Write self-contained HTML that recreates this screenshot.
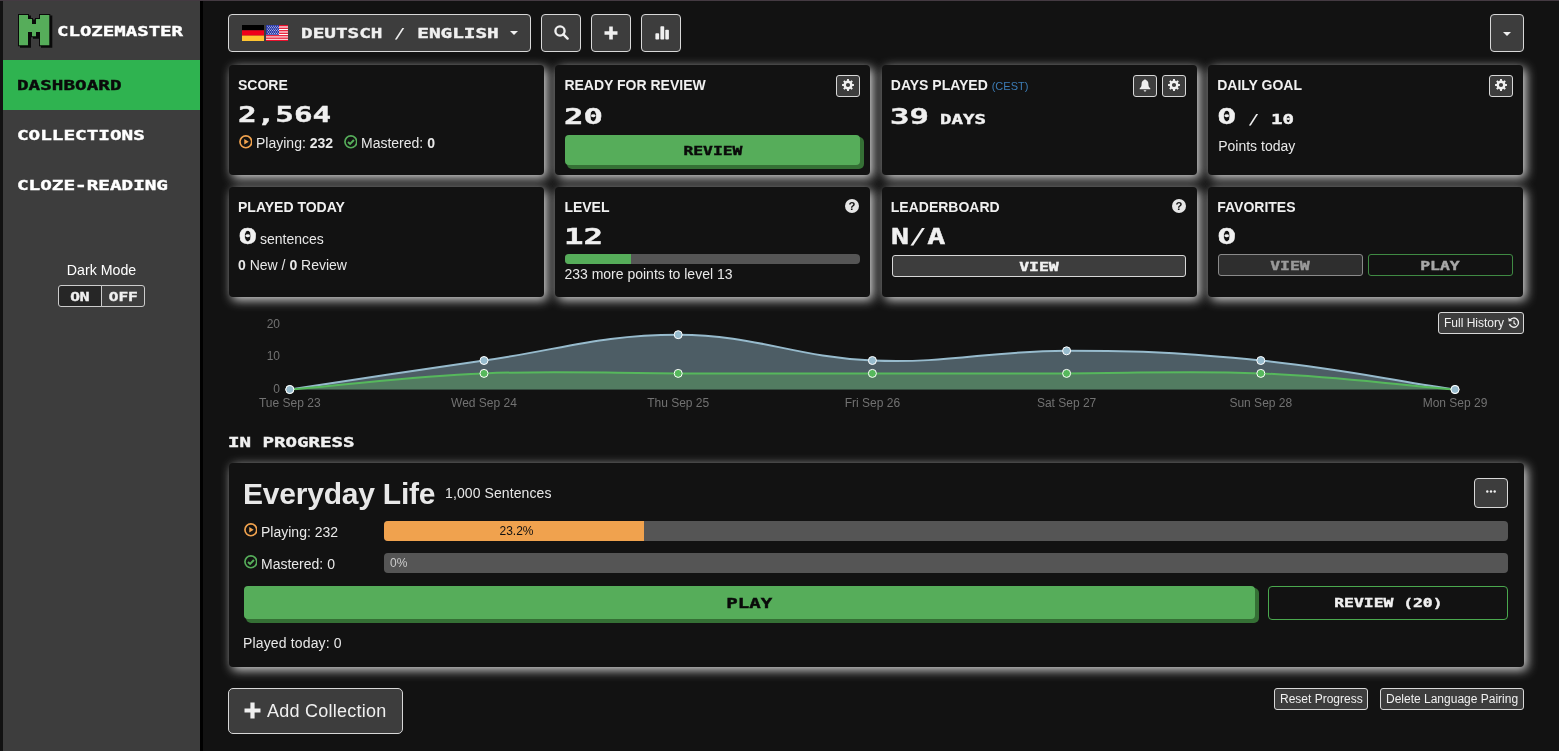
<!DOCTYPE html>
<html lang="en">
<head>
<meta charset="utf-8">
<title>Clozemaster Dashboard</title>
<style>
*{box-sizing:border-box;margin:0;padding:0}
html,body{width:1559px;height:751px;overflow:hidden;background:#121212}
body{position:relative;font-family:"Liberation Sans",sans-serif;color:#e8e8e8;font-size:14px}
.abs{position:absolute}
.px{font-family:"DejaVu Sans Mono","Liberation Mono",monospace;font-weight:bold;display:inline-block;white-space:pre;transform-origin:0 50%;transform:scaleX(1.41);line-height:1;-webkit-text-stroke:0.38px currentColor}
.pxc{transform-origin:50% 50%}
#topstrip{left:0;top:0;width:1559px;height:1px;background:#443a42}
#leftstrip{left:0;top:1px;width:3px;height:750px;background:#121212}
#sidebar{left:3px;top:1px;width:197px;height:750px;background:#3d3d3d}
#sideborder{left:200px;top:1px;width:3px;height:750px;background:#000}
.nav{left:0;width:197px;height:50px}
.nav .px{position:absolute;left:14px;top:19px;font-size:13.55px;color:#fff;transform:scaleX(1.424)}
.nav.active{background:#2fb350}
.nav.active .px{color:#0a0a0a}
.btn{display:flex;align-items:center;justify-content:center;position:absolute;background:#3d3d3d;border:1px solid #d8d8d8;border-radius:4px;color:#f0f0f0}
.panel{position:absolute;background:#121212;border-radius:4px;box-shadow:3px 3px 11px rgba(255,255,255,.85);width:314px;height:109px}
.panel h4{position:absolute;left:9px;top:12px;font-size:14px;font-weight:bold;color:#f0f0f0;white-space:nowrap;line-height:16px}
.big{position:absolute;left:10px;color:#f0f0f0}
.txt{position:absolute;white-space:nowrap;line-height:16px}

.ibtn{width:40px;height:38px;top:14px}
.ibtn svg{position:absolute}
.sbtn{position:absolute;width:24px;height:22px;background:#3d3d3d;border:1px solid #d8d8d8;border-radius:3px}
.sbtn svg{position:absolute;left:5px;top:3px}
.q{position:absolute;width:14px;height:14px}
.gbtn{display:flex;align-items:center;justify-content:center;position:absolute;background:#56ad5a;border-radius:4px;box-shadow:3px 3px 0 1px #357035;color:#0a0a0a}
.bar{position:absolute;background:#555;border-radius:4px;overflow:hidden}
.bar i{display:block;height:100%}
.ico{position:absolute;width:13.7px;height:13.7px;margin:-0.7px 0 0 -0.3px}
.lbl{fill:#727272;font-family:"Liberation Sans",sans-serif;font-size:12px}
</style>
</head>
<body>
<div id="topstrip" class="abs"></div>
<div id="leftstrip" class="abs"></div>

<!-- SIDEBAR -->
<div id="sidebar" class="abs">
  <div class="abs" id="logo" style="left:14px;top:12px;width:180px;height:38px">
    <svg class="abs" style="left:0;top:0" width="38" height="37" viewBox="0 0 38 37">
      <path d="M2 2H11V6H15V11H19V6H23V2H32.3V32.3H23V19H19V23.3H15V19H11V32.3H2Z" transform="translate(2,1.5)" fill="#0a0a0a" stroke="#0a0a0a" stroke-width="2"/>
      <path d="M2 2H11V6H15V11H19V6H23V2H32.3V32.3H23V19H19V23.3H15V19H11V32.3H2Z" fill="#56ad5a" stroke="#0a0a0a" stroke-width="2" paint-order="stroke"/>
    </svg>
    <span class="px abs" style="left:40px;top:11px;font-size:14.5px;transform:scaleX(1.312);color:#fff">CLOZEMASTER</span>
  </div>
  <div class="abs nav active" style="top:59px"><span class="px">DASHBOARD</span></div>
  <div class="abs nav" style="top:109px"><span class="px">COLLECTIONS</span></div>
  <div class="abs nav" style="top:159px"><span class="px">CLOZE-READING</span></div>
  <div class="abs txt" style="left:0;top:261px;width:197px;text-align:center;font-size:14.2px;color:#fff">Dark Mode</div>
  <div class="btn" style="left:55px;top:284px;width:44px;height:22px;border-radius:3px 0 0 3px;background:#262626;border-color:#ccc;padding-top:4px"><span class="px pxc" style="font-size:11.4px">ON</span></div>
  <div class="btn" style="left:98px;top:284px;width:44px;height:22px;border-radius:0 3px 3px 0;background:#3d3d3d;border-color:#ccc;padding-top:4px"><span class="px pxc" style="font-size:11.4px">OFF</span></div>
</div>
<div id="sideborder" class="abs"></div>

<!-- TOP BAR -->
<div class="btn" id="langbtn" style="left:228px;top:14px;width:303px;height:38px">
  <svg class="abs" style="left:13px;top:10px" width="46" height="16" viewBox="0 0 46 16">
    <rect x="0" y="0" width="22" height="5.4" fill="#000"/><rect x="0" y="5.3" width="22" height="5.4" fill="#f0001a"/><rect x="0" y="10.6" width="22" height="5.4" fill="#ffc531"/>
    <g transform="translate(24,0)">
      <rect width="22" height="16" fill="#fff"/>
      <g fill="#e8112d"><rect y="0" width="22" height="1.4"/><rect y="2.6" width="22" height="1.3"/><rect y="5.1" width="22" height="1.3"/><rect y="7.6" width="22" height="1.3"/><rect y="10.1" width="22" height="1.3"/><rect y="12.5" width="22" height="1.3"/><rect y="14.8" width="22" height="1.2"/></g>
      <rect width="13" height="9.8" fill="#2a3aa8"/><g fill="#c9cdf0"><rect x="1.0" y="0.8" width="0.9" height="0.9"/><rect x="3.0" y="0.8" width="0.9" height="0.9"/><rect x="5.0" y="0.8" width="0.9" height="0.9"/><rect x="7.0" y="0.8" width="0.9" height="0.9"/><rect x="9.0" y="0.8" width="0.9" height="0.9"/><rect x="11.0" y="0.8" width="0.9" height="0.9"/><rect x="2.0" y="2.2" width="0.9" height="0.9"/><rect x="4.0" y="2.2" width="0.9" height="0.9"/><rect x="6.0" y="2.2" width="0.9" height="0.9"/><rect x="8.0" y="2.2" width="0.9" height="0.9"/><rect x="10.0" y="2.2" width="0.9" height="0.9"/><rect x="12.0" y="2.2" width="0.9" height="0.9"/><rect x="1.0" y="3.7" width="0.9" height="0.9"/><rect x="3.0" y="3.7" width="0.9" height="0.9"/><rect x="5.0" y="3.7" width="0.9" height="0.9"/><rect x="7.0" y="3.7" width="0.9" height="0.9"/><rect x="9.0" y="3.7" width="0.9" height="0.9"/><rect x="11.0" y="3.7" width="0.9" height="0.9"/><rect x="2.0" y="5.1" width="0.9" height="0.9"/><rect x="4.0" y="5.1" width="0.9" height="0.9"/><rect x="6.0" y="5.1" width="0.9" height="0.9"/><rect x="8.0" y="5.1" width="0.9" height="0.9"/><rect x="10.0" y="5.1" width="0.9" height="0.9"/><rect x="12.0" y="5.1" width="0.9" height="0.9"/><rect x="1.0" y="6.6" width="0.9" height="0.9"/><rect x="3.0" y="6.6" width="0.9" height="0.9"/><rect x="5.0" y="6.6" width="0.9" height="0.9"/><rect x="7.0" y="6.6" width="0.9" height="0.9"/><rect x="9.0" y="6.6" width="0.9" height="0.9"/><rect x="11.0" y="6.6" width="0.9" height="0.9"/><rect x="2.0" y="8.1" width="0.9" height="0.9"/><rect x="4.0" y="8.1" width="0.9" height="0.9"/><rect x="6.0" y="8.1" width="0.9" height="0.9"/><rect x="8.0" y="8.1" width="0.9" height="0.9"/><rect x="10.0" y="8.1" width="0.9" height="0.9"/><rect x="12.0" y="8.1" width="0.9" height="0.9"/></g>
    </g>
  </svg>
  <span class="px abs" style="left:71.5px;top:12px;font-size:13.55px;transform:scaleX(1.426);color:#f0f0f0">DEUTSCH <span style="font-weight:normal;-webkit-text-stroke:0">/</span> ENGLISH</span>
  <svg class="abs" style="left:281px;top:16px" width="8" height="4" viewBox="0 0 8 4"><path d="M0 0h8L4 4z" fill="#f0f0f0"/></svg>
</div>
<div class="btn ibtn" style="left:541px">
  <svg style="left:12px;top:10px" width="15" height="15" viewBox="0 0 15 15"><circle cx="6" cy="6" r="4.6" fill="none" stroke="#f0f0f0" stroke-width="2.3"/><path d="M9.4 9.4L13.6 13.6" stroke="#f0f0f0" stroke-width="2.4" stroke-linecap="round"/></svg>
</div>
<div class="btn ibtn" style="left:591px">
  <svg style="left:12px;top:11px" width="14" height="14" viewBox="0 0 14 14"><path d="M5.2 0.5h3.6v4.7h4.7v3.6H8.8v4.7H5.2V8.8H0.5V5.2h4.7z" fill="#f0f0f0"/></svg>
</div>
<div class="btn ibtn" style="left:641px">
  <svg style="left:13px;top:11px" width="15" height="14" viewBox="0 0 15 14"><rect x="0.4" y="7.2" width="3.7" height="6.3" rx="0.8" fill="#f0f0f0"/><rect x="5.4" y="0.2" width="3.8" height="13.3" rx="0.8" fill="#f0f0f0"/><rect x="10.3" y="3.7" width="3.6" height="9.8" rx="0.8" fill="#f0f0f0"/></svg>
</div>
<div class="btn" style="left:1490px;top:14px;width:34px;height:38px">
  <svg class="abs" style="left:12px;top:17px" width="8" height="4" viewBox="0 0 8 4"><path d="M0 0h8L4 4z" fill="#f0f0f0"/></svg>
</div>

<!-- PANELS -->
<div class="panel" style="left:229.0px;top:65px;width:315.1px;height:110px">
  <h4>SCORE</h4>
  <span class="px big" style="top:39px;font-size:21.6px;transform:scaleX(1.435);left:9px">2,564</span>
  <svg class="ico" style="left:10px;top:71px" width="13" height="13" viewBox="0 0 13 13"><circle cx="6.5" cy="6.5" r="5.6" fill="none" stroke="#f0a24e" stroke-width="1.6"/><path d="M5 3.9L9.2 6.5L5 9.1z" fill="#f0a24e"/></svg>
  <div class="txt" style="left:27px;top:70px">Playing: <b>232</b></div>
  <svg class="ico" style="left:115px;top:71px" width="13" height="13" viewBox="0 0 13 13"><circle cx="6.5" cy="6.5" r="5.6" fill="none" stroke="#56ad5a" stroke-width="1.6"/><path d="M3.8 6.6L5.8 8.5L9.4 4.8" fill="none" stroke="#56ad5a" stroke-width="1.9"/></svg>
  <div class="txt" style="left:132px;top:70px">Mastered: <b>0</b></div>
</div>
<div class="panel" style="left:555.4px;top:65px;width:315.1px;height:110px">
  <h4>READY FOR REVIEW</h4>
  <div class="sbtn" style="left:281px;top:10px"><svg width="12" height="12" viewBox="0 0 12 12"><path fill-rule="evenodd" fill="#f0f0f0" d="M4.95 1.62 L5.06 0.07 L6.94 0.07 L7.05 1.62 L8.35 2.16 L9.53 1.15 L10.85 2.47 L9.84 3.65 L10.38 4.95 L11.93 5.06 L11.93 6.94 L10.38 7.05 L9.84 8.35 L10.85 9.53 L9.53 10.85 L8.35 9.84 L7.05 10.38 L6.94 11.93 L5.06 11.93 L4.95 10.38 L3.65 9.84 L2.47 10.85 L1.15 9.53 L2.16 8.35 L1.62 7.05 L0.07 6.94 L0.07 5.06 L1.62 4.95 L2.16 3.65 L1.15 2.47 L2.47 1.15 L3.65 2.16Z M3.90 6.00 a2.10 2.10 0 1 0 4.20 0 a2.10 2.10 0 1 0 -4.20 0Z"/></svg></div>
  <span class="px big" style="top:41px;font-size:21.6px;transform:scaleX(1.5);left:8.5px">20</span>
  <div class="gbtn" style="left:10px;top:70px;width:295px;height:30px;padding-top:3px"><span class="px pxc" style="font-size:11.6px">REVIEW</span></div>
</div>
<div class="panel" style="left:881.8px;top:65px;width:315.1px;height:110px">
  <h4>DAYS PLAYED <span style="font-weight:normal;font-size:11px;color:#3c7cb6">(CEST)</span></h4>
  <div class="sbtn" style="left:251px;top:10px"><svg width="12" height="13" viewBox="0 0 12 13"><path fill="#f0f0f0" d="M6 0.3c0.5 0 0.8 0.3 0.8 0.8c1.8 0.5 2.6 2 2.6 4c0 2.200 0.700 3.400 1.900 4.300c0.300 0.300 0.100 0.900-0.400 0.900H1.100c-0.500 0-0.700-0.600-0.400-0.900c1.200-0.900 1.900-2.100 1.900-4.300c0-2 0.800-3.500 2.600-4c0-0.500 0.300-0.800 0.800-0.800z M4.700 11.200h2.600c0 0.800-0.600 1.300-1.300 1.300s-1.300-0.500-1.300-1.300z"/></svg></div>
  <div class="sbtn" style="left:280px;top:10px"><svg width="12" height="12" viewBox="0 0 12 12"><path fill-rule="evenodd" fill="#f0f0f0" d="M4.95 1.62 L5.06 0.07 L6.94 0.07 L7.05 1.62 L8.35 2.16 L9.53 1.15 L10.85 2.47 L9.84 3.65 L10.38 4.95 L11.93 5.06 L11.93 6.94 L10.38 7.05 L9.84 8.35 L10.85 9.53 L9.53 10.85 L8.35 9.84 L7.05 10.38 L6.94 11.93 L5.06 11.93 L4.95 10.38 L3.65 9.84 L2.47 10.85 L1.15 9.53 L2.16 8.35 L1.62 7.05 L0.07 6.94 L0.07 5.06 L1.62 4.95 L2.16 3.65 L1.15 2.47 L2.47 1.15 L3.65 2.16Z M3.90 6.00 a2.10 2.10 0 1 0 4.20 0 a2.10 2.10 0 1 0 -4.20 0Z"/></svg></div>
  <span class="px big" style="top:41px;font-size:21.6px;transform:scaleX(1.5);left:8.5px">39</span>
  <span class="px big" style="left:58px;top:47.6px;font-size:13.55px">DAYS</span>
</div>
<div class="panel" style="left:1208.2px;top:65px;width:315.1px;height:110px">
  <h4>DAILY GOAL</h4>
  <div class="sbtn" style="left:281px;top:10px"><svg width="12" height="12" viewBox="0 0 12 12"><path fill-rule="evenodd" fill="#f0f0f0" d="M4.95 1.62 L5.06 0.07 L6.94 0.07 L7.05 1.62 L8.35 2.16 L9.53 1.15 L10.85 2.47 L9.84 3.65 L10.38 4.95 L11.93 5.06 L11.93 6.94 L10.38 7.05 L9.84 8.35 L10.85 9.53 L9.53 10.85 L8.35 9.84 L7.05 10.38 L6.94 11.93 L5.06 11.93 L4.95 10.38 L3.65 9.84 L2.47 10.85 L1.15 9.53 L2.16 8.35 L1.62 7.05 L0.07 6.94 L0.07 5.06 L1.62 4.95 L2.16 3.65 L1.15 2.47 L2.47 1.15 L3.65 2.16Z M3.90 6.00 a2.10 2.10 0 1 0 4.20 0 a2.10 2.10 0 1 0 -4.20 0Z"/></svg></div>
  <span class="px big" style="top:41px;font-size:21.6px;transform:scaleX(1.5);left:8.5px">0</span>
  <span class="px big" style="left:40px;top:47.6px;font-size:13.55px"><span style="font-weight:normal;-webkit-text-stroke:0">/</span> 10</span>
  <div class="txt" style="left:10px;top:73px">Points today</div>
</div>
<div class="panel" style="left:229.0px;top:187px;width:315.1px;height:110px">
  <h4>PLAYED TODAY</h4>
  <span class="px big" style="top:39px;font-size:21.6px;transform:scaleX(1.5);left:8.5px">0</span>
  <div class="txt" style="left:31px;top:44px">sentences</div>
  <div class="txt" style="left:9px;top:70px"><b>0</b> New / <b>0</b> Review</div>
</div>
<div class="panel" style="left:555.4px;top:187px;width:315.1px;height:110px">
  <h4>LEVEL</h4>
  <svg class="q" style="left:290px;top:12px" viewBox="0 0 13 13"><circle cx="6.5" cy="6.5" r="6.5" fill="#e6e6e6"/><text x="6.5" y="10.3" text-anchor="middle" font-family="Liberation Sans,sans-serif" font-weight="bold" font-size="10.5" fill="#121212">?</text></svg>
  <span class="px big" style="top:39px;font-size:21.6px;transform:scaleX(1.5);left:8.5px">12</span>
  <div class="bar" style="left:10px;top:67px;width:295px;height:10px"><i style="width:66px;background:#56ad5a"></i></div>
  <div class="txt" style="left:9px;top:79px">233 more points to level 13</div>
</div>
<div class="panel" style="left:881.8px;top:187px;width:315.1px;height:110px">
  <h4>LEADERBOARD</h4>
  <svg class="q" style="left:290px;top:12px" viewBox="0 0 13 13"><circle cx="6.5" cy="6.5" r="6.5" fill="#e6e6e6"/><text x="6.5" y="10.3" text-anchor="middle" font-family="Liberation Sans,sans-serif" font-weight="bold" font-size="10.5" fill="#121212">?</text></svg>
  <span class="px big" style="top:39px;font-size:21.6px;transform:scaleX(1.39);left:9.5px">N<span style="font-weight:normal;-webkit-text-stroke:0">/</span>A</span>
  <div class="btn" style="left:10px;top:68px;width:294px;height:22px;border-radius:3px;padding-top:3px"><span class="px pxc" style="font-size:11.6px">VIEW</span></div>
</div>
<div class="panel" style="left:1208.2px;top:187px;width:315.1px;height:110px">
  <h4>FAVORITES</h4>
  <span class="px big" style="top:39px;font-size:21.6px;transform:scaleX(1.5);left:8.5px">0</span>
  <div class="btn" style="left:10px;top:67px;width:145px;height:22px;border-radius:3px;background:#2e2e2e;border-color:#8a8a8a;padding:4px 2px 0 0"><span class="px pxc" style="font-size:11.6px;color:#9a9a9a">VIEW</span></div>
  <div class="btn" style="left:160px;top:67px;width:145px;height:22px;border-radius:3px;background:transparent;border-color:#3f8a43;padding:4px 2px 0 0"><span class="px pxc" style="font-size:11.6px;color:#a8a8a8">PLAY</span></div>
</div>
<!-- /PANELS -->
<!-- CHART -->
<svg class="abs" id="chart" style="left:0.2px;top:0.5px" width="1559" height="420" viewBox="0 0 1559 420">
  <path d="M289.8 388.5 C367.5 376.9 406.2 370.5 484.0 359.5 C561.6 348.5 600.5 333.7 678.2 333.7 C755.9 333.7 794.4 356.2 872.4 359.5 C949.8 362.7 988.9 349.8 1066.6 349.8 C1144.3 349.8 1183.5 351.8 1260.8 359.5 C1338.9 367.3 1377.3 376.9 1455.0 388.5 L1455 388.5 L289.8 388.5Z" fill="rgba(151,187,205,0.45)"/>
  <path d="M289.8 388.5 C367.5 376.9 406.2 370.5 484.0 359.5 C561.6 348.5 600.5 333.7 678.2 333.7 C755.9 333.7 794.4 356.2 872.4 359.5 C949.8 362.7 988.9 349.8 1066.6 349.8 C1144.3 349.8 1183.5 351.8 1260.8 359.5 C1338.9 367.3 1377.3 376.9 1455.0 388.5" fill="none" stroke="#97bbcd" stroke-width="2"/>
  <path d="M289.8 388.5 C367.5 382.1 406.2 375.6 484.0 372.4 C561.5 369.2 600.5 372.4 678.2 372.4 C755.9 372.4 794.7 372.4 872.4 372.4 C950.1 372.4 988.9 372.4 1066.6 372.4 C1144.3 372.4 1183.3 369.2 1260.8 372.4 C1338.6 375.6 1377.3 382.1 1455.0 388.5 L1455 388.5 L289.8 388.5Z" fill="rgba(92,184,92,0.35)"/>
  <path d="M289.8 388.5 C367.5 382.1 406.2 375.6 484.0 372.4 C561.5 369.2 600.5 372.4 678.2 372.4 C755.9 372.4 794.7 372.4 872.4 372.4 C950.1 372.4 988.9 372.4 1066.6 372.4 C1144.3 372.4 1183.3 369.2 1260.8 372.4 C1338.6 375.6 1377.3 382.1 1455.0 388.5" fill="none" stroke="#56b85c" stroke-width="2"/>
  <circle cx="289.8" cy="388.5" r="4" fill="#56b85c" stroke="#fff" stroke-width="1"/>
  <circle cx="484.0" cy="372.4" r="4" fill="#56b85c" stroke="#fff" stroke-width="1"/>
  <circle cx="678.2" cy="372.4" r="4" fill="#56b85c" stroke="#fff" stroke-width="1"/>
  <circle cx="872.4" cy="372.4" r="4" fill="#56b85c" stroke="#fff" stroke-width="1"/>
  <circle cx="1066.6" cy="372.4" r="4" fill="#56b85c" stroke="#fff" stroke-width="1"/>
  <circle cx="1260.8" cy="372.4" r="4" fill="#56b85c" stroke="#fff" stroke-width="1"/>
  <circle cx="1455.0" cy="388.5" r="4" fill="#56b85c" stroke="#fff" stroke-width="1"/>
  <circle cx="289.8" cy="388.5" r="4" fill="#97bbcd" stroke="#fff" stroke-width="1"/>
  <circle cx="484.0" cy="359.5" r="4" fill="#97bbcd" stroke="#fff" stroke-width="1"/>
  <circle cx="678.2" cy="333.7" r="4" fill="#97bbcd" stroke="#fff" stroke-width="1"/>
  <circle cx="872.4" cy="359.5" r="4" fill="#97bbcd" stroke="#fff" stroke-width="1"/>
  <circle cx="1066.6" cy="349.8" r="4" fill="#97bbcd" stroke="#fff" stroke-width="1"/>
  <circle cx="1260.8" cy="359.5" r="4" fill="#97bbcd" stroke="#fff" stroke-width="1"/>
  <circle cx="1455.0" cy="388.5" r="4" fill="#97bbcd" stroke="#fff" stroke-width="1"/>
  <text class="lbl" x="280" y="327.4" text-anchor="end">20</text>
  <text class="lbl" x="280" y="359.4" text-anchor="end">10</text>
  <text class="lbl" x="280" y="391.9" text-anchor="end">0</text>
  <text class="lbl" x="289.8" y="406.4" text-anchor="middle">Tue Sep 23</text>
  <text class="lbl" x="484.0" y="406.4" text-anchor="middle">Wed Sep 24</text>
  <text class="lbl" x="678.2" y="406.4" text-anchor="middle">Thu Sep 25</text>
  <text class="lbl" x="872.4" y="406.4" text-anchor="middle">Fri Sep 26</text>
  <text class="lbl" x="1066.6" y="406.4" text-anchor="middle">Sat Sep 27</text>
  <text class="lbl" x="1260.8" y="406.4" text-anchor="middle">Sun Sep 28</text>
  <text class="lbl" x="1455.0" y="406.4" text-anchor="middle">Mon Sep 29</text>
</svg>
<div class="btn" style="left:1438px;top:312px;width:86px;height:22px;border-radius:3px;font-size:12px"><span class="txt" style="left:5px;top:2px">Full History</span><svg class="abs" style="left:69px;top:4px" width="12" height="12" viewBox="0 0 12 12"><path d="M2.0 3.2A4.6 4.6 0 1 1 1.5 7" fill="none" stroke="#f0f0f0" stroke-width="1.4"/><path d="M0.3 0.8L0.6 4.6L4.3 4.1z" fill="#f0f0f0"/><path d="M6 3.4V6.3L7.9 7.6" fill="none" stroke="#f0f0f0" stroke-width="1.2"/></svg></div>
<!-- IN PROGRESS -->
<span class="px abs" style="left:228px;top:436px;font-size:13.55px;color:#f0f0f0">IN PROGRESS</span>
<div class="panel" style="left:229px;top:463px;width:1294.7px;height:204px">
  <div class="txt" style="left:14px;top:14px;font-size:30px;font-weight:bold;line-height:34px;letter-spacing:-0.22px">Everyday Life</div>
  <div class="txt" style="left:216px;top:22px;letter-spacing:0.1px">1,000 Sentences</div>
  <div class="btn" style="left:1245px;top:15px;width:34px;height:30px"><svg class="abs" style="left:11px;top:11px" width="10" height="3" viewBox="0 0 10 3"><circle cx="1.3" cy="1.5" r="1.2" fill="#f0f0f0"/><circle cx="5" cy="1.5" r="1.2" fill="#f0f0f0"/><circle cx="8.7" cy="1.5" r="1.2" fill="#f0f0f0"/></svg></div>
  <svg class="ico" style="left:15px;top:61px" width="13" height="13" viewBox="0 0 13 13"><circle cx="6.5" cy="6.5" r="5.6" fill="none" stroke="#f0a24e" stroke-width="1.6"/><path d="M5 3.9L9.2 6.5L5 9.1z" fill="#f0a24e"/></svg>
  <div class="txt" style="left:32px;top:61px">Playing: 232</div>
  <div class="bar" style="left:155px;top:58px;width:1124px;height:20px"><i style="width:260px;background:#f0a24e;color:#111;font-style:normal;font-size:12px;line-height:20px;text-align:center;padding-left:5px">23.2%</i></div>
  <svg class="ico" style="left:15px;top:93px" width="13" height="13" viewBox="0 0 13 13"><circle cx="6.5" cy="6.5" r="5.6" fill="none" stroke="#56ad5a" stroke-width="1.6"/><path d="M3.8 6.6L5.8 8.5L9.4 4.8" fill="none" stroke="#56ad5a" stroke-width="1.9"/></svg>
  <div class="txt" style="left:32px;top:93px">Mastered: 0</div>
  <div class="bar" style="left:155px;top:90px;width:1124px;height:20px"><i style="width:40px;color:#ccc;font-style:normal;font-size:12px;line-height:20px;padding-left:6px">0%</i></div>
  <div class="gbtn" style="left:15px;top:123px;width:1011px;height:33px;padding-top:2px"><span class="px pxc" style="font-size:13.55px">PLAY</span></div>
  <div class="btn" style="left:1039px;top:123px;width:240px;height:34px;background:transparent;border-color:#4aa84e;padding-top:2px"><span class="px pxc" style="font-size:11.6px">REVIEW (20)</span></div>
  <div class="txt" style="left:14px;top:172px;letter-spacing:0.15px">Played today: 0</div>
</div>
<div class="btn" style="left:228px;top:688px;width:175px;height:46px;border-radius:5px">
  <svg class="abs" style="left:15px;top:13px" width="17" height="17" viewBox="0 0 17 17"><path d="M6.4 0.5h4.2v5.9h5.9v4.2h-5.900v5.900H6.400v-5.900H0.500V6.400h5.900z" fill="#f0f0f0"/></svg>
  <span class="txt" style="left:38px;top:11px;font-size:18px;line-height:22px;letter-spacing:0.25px">Add Collection</span>
</div>
<div class="btn" style="left:1274px;top:688px;width:94px;height:22px;border-radius:3px;font-size:12px"><span class="txt" style="left:5px;top:2px">Reset Progress</span></div>
<div class="btn" style="left:1380px;top:688px;width:144px;height:22px;border-radius:3px;font-size:12px"><span class="txt" style="left:5px;top:2px">Delete Language Pairing</span></div>


</body>
</html>
